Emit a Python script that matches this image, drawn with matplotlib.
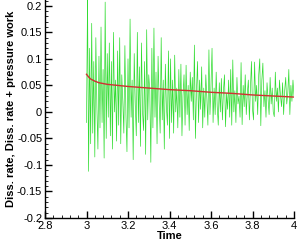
import numpy as np
import matplotlib
matplotlib.use("Agg")
import matplotlib.pyplot as plt
from matplotlib.ticker import MultipleLocator

plt.rcParams['font.family'] = ['Liberation Sans', 'DejaVu Sans']

# dissipation rate + pressure work (noisy), in units of 1e-3
green_milli = [
    -20, 215, -112, 120, -60, 167, -40, 95, -85, 140, 10, -70, 105, -30, 160, -20, 80, -87, 207, -50, 110,
    -10, 130, -45, 95, -70, 150, 0, 60, -55, 115, -25, 140, -60, 70, 20, -40, 125, -5, -75, 100,
    -30, 175, -10, 60, -90, 110, 15, -45, 150, -20, 85, -65, 130, 0, -35, 95, -80, 155, -15, 70,
    40, -95, 120, -30, 158, -10, 75, -60, 105, 20, -40, 140, -15, 60, -70, 90, 10, -25, 115, -50,
    100, -20, 60, -40, 107, 0, 45, -30, 80, -10, 90, -45, 30, 70, -25, 88, -5, 50, -35, 75,
    20, 65, -15, 126, -50, 40, 95, -20, 60, 5, 85, -30, 45, -10, 70, 25, -25, 117, -5, 50,
    120, -20, 45, -5, 75, 10, -25, 55, 0, 63, -15, 40, 70, -28, 35, 5, 60, -10, 80, -25,
    98, 0, 40, -20, 65, 15, 30, -10, 93, -24, 50, 10, 70, -5, 35, 60, -15, 45, 95, 5,
    -15, 94, 20, 50, -5, 70, 100, -26, 60, 92, 10, 40, -10, 55, 25, -5, 65, 15, 45, 0,
    -9, 75, 20, 45, 0, 60, 30, 10, 55, -5, 40, 65, 15, 35, 80, -5, 50, 20, 60, 30,
]

# dissipation rate (smooth)
red_time = [3.0, 3.01, 3.02, 3.04, 3.06, 3.1, 3.15, 3.2, 3.3, 3.4, 3.5, 3.6, 3.7, 3.8, 3.9, 4.0]
red_value = [0.071, 0.066, 0.062, 0.058, 0.055, 0.052, 0.050, 0.048, 0.045, 0.042,
             0.040, 0.037, 0.035, 0.032, 0.030, 0.028]

green_value = np.array(green_milli) / 1000.0
green_time = np.linspace(3.0, 4.0, len(green_value))

fig = plt.figure(figsize=(2.99, 2.45), dpi=100)
ax = fig.add_axes([45 / 299, 27 / 245, 249 / 299, 218 / 245])

ax.plot(green_time, green_value, color='#33dd33', lw=0.5)
ax.plot(red_time, red_value, color='#d03030', lw=1.0)

ax.set_xlim(2.8, 4.0)
ax.set_ylim(-0.2, 0.211)
ax.xaxis.set_major_locator(MultipleLocator(0.2))
ax.xaxis.set_minor_locator(MultipleLocator(0.04))
ax.yaxis.set_major_locator(MultipleLocator(0.05))
ax.yaxis.set_minor_locator(MultipleLocator(0.01))
ax.xaxis.set_major_formatter(lambda v, p: f"{v:g}")
ax.yaxis.set_major_formatter(lambda v, p: f"{v:g}")

for s in ['top', 'right']:
    ax.spines[s].set_visible(False)
for s in ['left', 'bottom']:
    ax.spines[s].set_linewidth(1.0)

ax.tick_params(which='major', direction='in', length=5, width=1.0, labelsize=8, pad=2)
ax.tick_params(which='minor', direction='in', length=2.5, width=0.6)

ax.set_xlabel('Time', fontsize=8, fontweight='bold', labelpad=0)
ax.set_ylabel('Diss. rate, Diss. rate + pressure work', fontsize=8, fontweight='bold', labelpad=1)

fig.savefig('out.png', dpi=100)
